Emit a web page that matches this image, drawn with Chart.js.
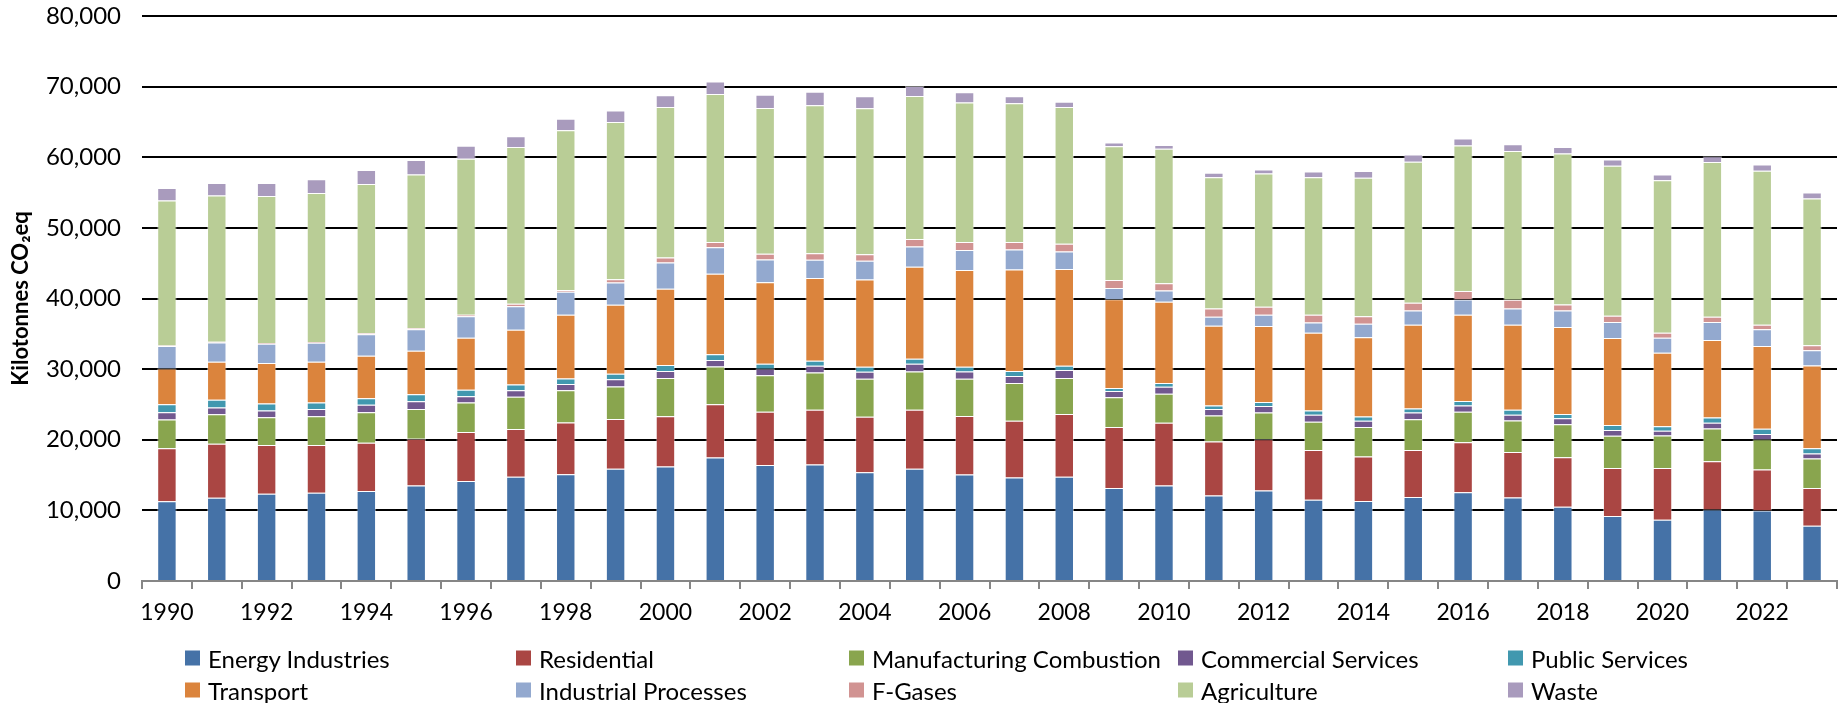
<!DOCTYPE html>
<html>
<head>
<meta charset="utf-8">
<script src="https://cdn.jsdelivr.net/npm/chart.js@4.4.1/dist/chart.umd.min.js"></script>
<style>
  html, body { margin: 0; padding: 0; background: #fff; }
  #wrap { position: relative; width: 1839px; height: 703px; }
  #legend { position: absolute; left: 0; top: 0; width: 1839px; height: 703px; pointer-events: none;
            font-family: Lato, "Open Sans", sans-serif; font-size: 24px; color: #000; }
  .item { position: absolute; display: flex; align-items: center; white-space: nowrap; transform: translateY(-50%); }
  .item i { display: inline-block; width: 15px; height: 15px; margin-right: 8px; }
</style>
</head>
<body>
<div id="wrap">
  <canvas id="emissions" width="1839" height="703"></canvas>
  <div id="legend"></div>
</div>
<script>
const years = ["1990","1991","1992","1993","1994","1995","1996","1997","1998","1999","2000","2001","2002","2003","2004","2005","2006","2007","2008","2009","2010","2011","2012","2013","2014","2015","2016","2017","2018","2019","2020","2021","2022","2023"];

// kilotonnes CO2eq by sector
const energyIndustries = [11300, 11770, 12370, 12480, 12750, 13510, 14160, 14750, 15130, 15890, 16220, 17470, 16440, 16490, 15400, 15890, 15080, 14650, 14750, 13180, 13510, 12100, 12800, 11500, 11340, 11880, 12580, 11820, 10520, 9220, 8680, 10140, 9980, 7810];
const residential = [7500, 7650, 6890, 6780, 6840, 6620, 6940, 6780, 7320, 7050, 7110, 7540, 7540, 7760, 7870, 8350, 8300, 8030, 8900, 8620, 8900, 7650, 7270, 7050, 6290, 6670, 7050, 6460, 7000, 6780, 7320, 6830, 5800, 5370];
const manufacturing = [4070, 4180, 3910, 4070, 4290, 4230, 4180, 4560, 4560, 4610, 5420, 5370, 5150, 5260, 5370, 5420, 5260, 5370, 5100, 4230, 4120, 3690, 3800, 4010, 4180, 4340, 4340, 4450, 4660, 4560, 4610, 4610, 4290, 4180];
const commercial = [1030, 980, 980, 1030, 1080, 1090, 870, 920, 870, 1030, 980, 920, 920, 980, 980, 1090, 1030, 980, 1140, 870, 980, 920, 920, 980, 870, 980, 870, 810, 870, 810, 650, 810, 760, 710];
const publicServices = [1140, 1090, 980, 920, 920, 980, 920, 810, 810, 760, 870, 810, 710, 710, 710, 710, 650, 710, 600, 430, 540, 490, 540, 600, 600, 540, 650, 710, 600, 710, 650, 760, 710, 710];
const transport = [5040, 5370, 5750, 5750, 6020, 6180, 7380, 7760, 9000, 9760, 10790, 11390, 11550, 11720, 12370, 13020, 13720, 14370, 13670, 12580, 11500, 11280, 10790, 11010, 11230, 11880, 12200, 12040, 12310, 12310, 10410, 10960, 11720, 11720];
const industrialProcesses = [3190, 2740, 2720, 2720, 3040, 3040, 3040, 3310, 3250, 3150, 3690, 3740, 3200, 2550, 2660, 2880, 2820, 2820, 2500, 1570, 1570, 1300, 1570, 1460, 1900, 2010, 2170, 2280, 2330, 2280, 2120, 2550, 2390, 2170];
const fGases = [60, 80, 100, 100, 160, 160, 220, 380, 270, 490, 710, 760, 810, 920, 920, 1080, 1140, 1080, 1090, 1140, 1030, 1140, 1140, 1090, 1090, 1090, 1190, 1250, 870, 870, 710, 760, 650, 710];
const agriculture = [20560, 20720, 20830, 21100, 21100, 21750, 22080, 22180, 22620, 22240, 21320, 20940, 20670, 20990, 20670, 20230, 19740, 19640, 19360, 18930, 19040, 18600, 18880, 19470, 19580, 19960, 20610, 21050, 21370, 21260, 21590, 21910, 21800, 20770];
const waste = [1740, 1790, 1840, 1950, 2010, 2060, 1850, 1520, 1630, 1630, 1680, 1790, 1850, 1900, 1680, 1410, 1460, 980, 760, 540, 540, 650, 540, 810, 980, 1030, 980, 980, 920, 870, 810, 810, 870, 870];

const series = [
  ["Energy Industries", energyIndustries, "#4572A7"],
  ["Residential", residential, "#AA4643"],
  ["Manufacturing Combustion", manufacturing, "#89A54E"],
  ["Commercial Services", commercial, "#71588F"],
  ["Public Services", publicServices, "#4198AF"],
  ["Transport", transport, "#DB843D"],
  ["Industrial Processes", industrialProcesses, "#93A9CF"],
  ["F-Gases", fGases, "#D19392"],
  ["Agriculture", agriculture, "#B9CD96"],
  ["Waste", waste, "#A99BBD"]
];

const tickFont = { family: "Lato, 'Open Sans', sans-serif", size: 23 };

const chart = new Chart(document.getElementById("emissions"), {
  type: "bar",
  data: {
    labels: years,
    datasets: series.map(([label, data, color]) => ({
      label, data,
      backgroundColor: color,
      borderColor: "rgba(255,255,255,0.45)",
      borderWidth: 1,
      categoryPercentage: 0.39,
      barPercentage: 1
    }))
  },
  options: {
    responsive: false,
    animation: false,
    layout: { padding: { top: 16, right: 2, left: 0, bottom: 0 } },
    plugins: { legend: { display: false }, tooltip: { enabled: false } },
    scales: {
      x: {
        stacked: true,
        grid: { drawOnChartArea: false, color: "#868686", lineWidth: 2, tickLength: 8, offset: true },
        border: { color: "#868686", width: 2 },
        ticks: {
          autoSkip: false, maxRotation: 0, color: "#000", font: tickFont, padding: 10,
          callback: (v, i) => (i % 2 === 0 ? years[i] : "")
        },
        afterFit: s => { s.height = 122; }
      },
      y: {
        stacked: true,
        min: 0, max: 80000,
        ticks: {
          stepSize: 10000, color: "#000", padding: 21,
          font: { family: "Lato, 'Open Sans', sans-serif", size: 24 },
          callback: v => v.toLocaleString("en-US")
        },
        grid: { color: c => (c.tick && c.tick.value === 0 ? "rgba(0,0,0,0)" : "#000"), lineWidth: 2, drawTicks: false },
        border: { display: false },
        title: {
          display: true, text: "Kilotonnes CO₂eq", color: "#000",
          font: { family: "Lato, 'Open Sans', sans-serif", size: 22, weight: "bold" },
          padding: { top: 8, bottom: 0 }
        },
        // fixed axis width; the top label may overhang the plot
        afterFit: s => { s.width = 142; s.paddingTop = 0; s.paddingBottom = 0; }
      }
    }
  }
});

// legend: five columns, two rows
const legendCols = [185, 516, 849, 1178, 1508];
const legendRows = [658, 690];
const legend = document.getElementById("legend");
chart.data.datasets.forEach((ds, i) => {
  const el = document.createElement("div");
  el.className = "item";
  el.style.left = legendCols[i % 5] + "px";
  el.style.top = legendRows[Math.floor(i / 5)] + "px";
  el.innerHTML = `<i style="background:${ds.backgroundColor}"></i><span>${ds.label}</span>`;
  legend.appendChild(el);
});
</script>
</body>
</html>
